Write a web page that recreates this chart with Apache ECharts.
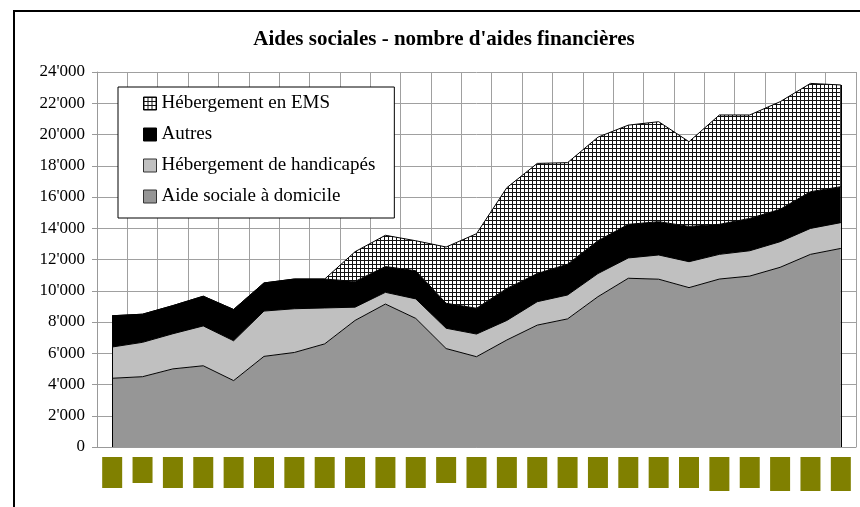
<!DOCTYPE html>
<html>
<head>
<meta charset="utf-8">
<title>Aides sociales - nombre d'aides financières</title>
<script src="https://cdn.jsdelivr.net/npm/echarts@6/dist/echarts.min.js"></script>
<style>
  html, body { margin: 0; padding: 0; background: #fff; }
  #main { width: 860px; height: 507px; }
</style>
</head>
<body>
<div id="main"></div>
<script>
// x labels are hidden behind olive blocks in the original, so only the index is kept
var categories = ['1','2','3','4','5','6','7','8','9','10','11','12','13',
                  '14','15','16','17','18','19','20','21','22','23','24','25'];
// n = normal block, s = short block, l = long block
var labelKind = ['n','s','n','n','n','n','n','n','n','n','n','s','n',
                 'n','n','n','n','n','n','n','l','n','l','l','l'];

var aideDomicile = [4400, 4500, 5000, 5200, 4250, 5800, 6050, 6600, 8100, 9150, 8230, 6300, 5780,
                    6850, 7800, 8200, 9620, 10800, 10740, 10200, 10750, 10940, 11500, 12330, 12710];
var handicapes   = [2000, 2200, 2250, 2550, 2550, 2900, 2800, 2300, 850, 750, 1250, 1300, 1450,
                    1250, 1500, 1530, 1480, 1300, 1550, 1660, 1580, 1620, 1640, 1660, 1650];
var autres       = [2000, 1800, 1800, 1900, 2000, 1800, 1900, 1850, 1650, 1650, 1800, 1600, 1650,
                    2050, 1800, 1970, 2100, 2150, 2130, 2260, 1920, 2070, 2070, 2350, 2300];
var ems          = [0, 0, 0, 0, 0, 0, 0, 0, 1900, 2000, 1920, 3600, 4770,
                    6450, 7050, 6500, 6630, 6350, 6400, 5420, 7000, 6620, 6890, 6930, 6510];

var serif = "'Liberation Serif', 'Times New Roman', serif";

// crosshatch fill for EMS
function hatch() {
    var c = document.createElement('canvas');
    c.width = 4; c.height = 4;
    var g = c.getContext('2d');
    g.fillStyle = '#fff';
    g.fillRect(0, 0, 4, 4);
    g.fillStyle = '#111';
    g.fillRect(0, 0, 4, 1);
    g.fillRect(0, 0, 1, 4);
    return c;
}
var hatchFill = { image: hatch(), repeat: 'repeat' };

function fmt(v) {
    return String(v).replace(/\B(?=(\d{3})+(?!\d))/g, "'");
}

// stacked total at first and last category, for the vertical edges of the areas
var last = categories.length - 1;
var topFirst = aideDomicile[0] + handicapes[0] + autres[0] + ems[0];
var topLast = aideDomicile[last] + handicapes[last] + autres[last] + ems[last];

function area(name, data, fill) {
    return {
        name: name,
        type: 'line',
        stack: 'total',
        data: data,
        showSymbol: false,
        symbol: 'none',
        lineStyle: { color: '#000', width: 1 },
        itemStyle: { color: fill },
        areaStyle: { color: fill, opacity: 1 }
    };
}

var series = [
    area('Aide sociale à domicile', aideDomicile, '#969696'),
    area('Hébergement de handicapés', handicapes, '#c0c0c0'),
    area('Autres', autres, '#000'),
    area('Hébergement en EMS', ems, hatchFill)
];
series[3].markLine = {
    silent: true,
    symbol: 'none',
    label: { show: false },
    lineStyle: { color: '#000', width: 1, type: 'solid' },
    data: [
        [{ coord: [0, 0] }, { coord: [0, topFirst] }],
        [{ coord: [last, 0] }, { coord: [last, topLast] }]
    ]
};

var myChart = echarts.init(document.getElementById('main'));

var option = {
    animation: false,
    backgroundColor: '#fff',
    title: {
        text: "Aides sociales - nombre d'aides financières",
        left: 444,
        top: 29,
        padding: 0,
        textAlign: 'center',
        textStyle: { fontFamily: serif, fontSize: 21, fontWeight: 'bold', color: '#000' }
    },
    graphic: [{
        type: 'rect',
        shape: { x: 14, y: 11, width: 900, height: 600 },
        style: { fill: 'none', stroke: '#000', lineWidth: 2 },
        silent: true
    }],
    legend: {
        orient: 'vertical',
        left: 118,
        top: 87,
        align: 'left',
        padding: [7, 19, 12, 25],
        itemGap: 12,
        itemWidth: 13,
        itemHeight: 13,
        icon: 'rect',
        backgroundColor: '#fff',
        borderColor: '#000',
        borderWidth: 1,
        textStyle: { fontFamily: serif, fontSize: 19, color: '#000' },
        data: [
            { name: 'Hébergement en EMS', itemStyle: { color: hatchFill, borderColor: '#000', borderWidth: 1 } },
            { name: 'Autres', itemStyle: { color: '#000', borderColor: '#000', borderWidth: 1 } },
            { name: 'Hébergement de handicapés', itemStyle: { color: '#c0c0c0', borderColor: '#333', borderWidth: 1 } },
            { name: 'Aide sociale à domicile', itemStyle: { color: '#969696', borderColor: '#333', borderWidth: 1 } }
        ]
    },
    grid: { left: 97, right: 4, top: 72, bottom: 60 },
    xAxis: {
        type: 'category',
        data: categories,
        boundaryGap: true,
        axisLine: { lineStyle: { color: '#999' } },
        axisTick: { length: 4, lineStyle: { color: '#999' } },
        splitLine: { show: true, lineStyle: { color: '#a0a0a0' } },
        axisLabel: {
            interval: 0,
            margin: 10,
            formatter: function (v, i) { return '{' + labelKind[i] + '| }'; },
            rich: {
                n: { backgroundColor: '#808000', width: 20, height: 31 },
                s: { backgroundColor: '#808000', width: 20, height: 26 },
                l: { backgroundColor: '#808000', width: 20, height: 34 }
            }
        }
    },
    yAxis: {
        type: 'value',
        min: 0,
        max: 24000,
        interval: 2000,
        axisLine: { show: true, lineStyle: { color: '#999' } },
        axisTick: { show: true, length: 5, lineStyle: { color: '#999' } },
        splitLine: { lineStyle: { color: '#a0a0a0' } },
        axisLabel: {
            margin: 12,
            fontFamily: serif,
            fontSize: 17,
            color: '#000',
            formatter: fmt
        }
    },
    series: series
};

myChart.setOption(option);
</script>
</body>
</html>
